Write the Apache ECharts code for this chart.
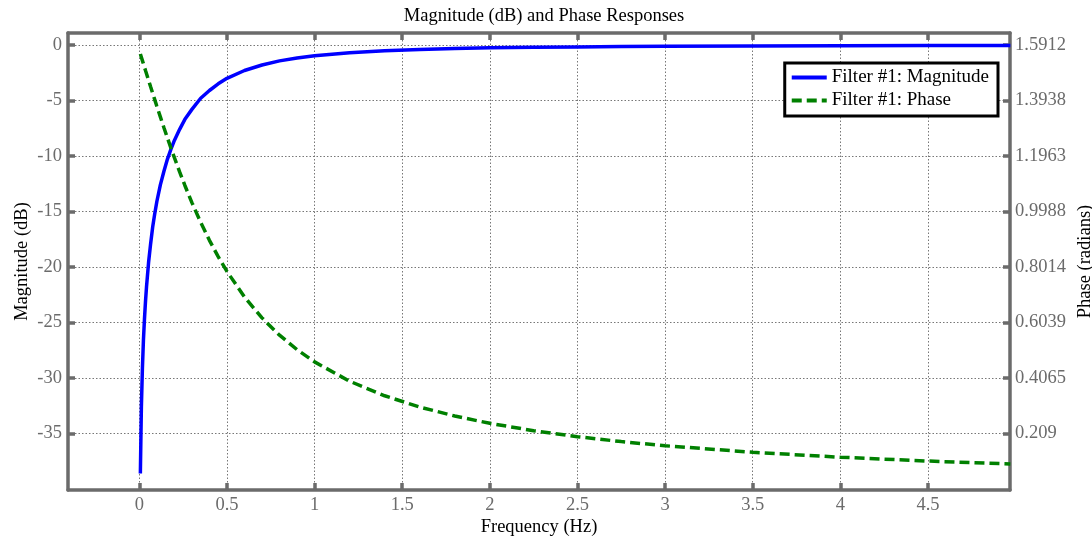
<!DOCTYPE html>
<html>
<head>
<meta charset="utf-8">
<script src="https://cdn.jsdelivr.net/npm/echarts@6/dist/echarts.min.js"></script>
<style>
  html, body { margin: 0; padding: 0; background: #fff; }
  #chart { width: 1092px; height: 538px; }
</style>
</head>
<body>
<div id="chart"></div>
<script>
  // frequencies (Hz)
  const freq = [0.0059, 0.0117, 0.0176, 0.0234, 0.0293, 0.0352, 0.041, 0.0527, 0.0645, 0.0762,
    0.0879, 0.1, 0.12, 0.14, 0.16, 0.18, 0.2, 0.23, 0.26, 0.3, 0.35, 0.4, 0.45, 0.5,
    0.6, 0.7, 0.8, 0.9, 1.0, 1.2, 1.4, 1.6, 1.8, 2.0, 2.25, 2.5, 2.75, 3.0, 3.5, 4.0, 4.5, 4.97]
  // Filter #1: Magnitude (dB)
  const magnitude = [-38.6, -32.6, -29.1, -26.6, -24.7, -23.1, -21.8, -19.6, -17.9, -16.4,
    -15.2, -14.1, -12.6, -11.4, -10.3, -9.4, -8.6, -7.6, -6.7, -5.8, -4.8, -4.1, -3.5, -3.0,
    -2.3, -1.8, -1.43, -1.17, -0.97, -0.7, -0.52, -0.4, -0.32, -0.26, -0.21, -0.17, -0.14, -0.12, -0.09, -0.07, -0.05, -0.04]
  // Filter #1: Phase (radians)
  const phase = [1.559, 1.5474, 1.5356, 1.524, 1.5123, 1.5005, 1.489, 1.4658, 1.4425, 1.4196,
    1.3968, 1.3734, 1.3353, 1.2978, 1.2611, 1.2252, 1.1903, 1.1397, 1.0913, 1.0304, 0.9601, 0.8961, 0.838, 0.7854,
    0.6947, 0.6202, 0.5586, 0.5071, 0.4636, 0.3948, 0.343, 0.3029, 0.2709, 0.245, 0.2187, 0.1974, 0.1799, 0.1651, 0.1419, 0.1244, 0.1107, 0.1003]

  const freqTicks = [0, 0.5, 1, 1.5, 2, 2.5, 3, 3.5, 4, 4.5]
  const magTicks = [-35, -30, -25, -20, -15, -10, -5, 0]
  const phaseTicks = [0.209, 0.4065, 0.6039, 0.8014, 0.9988, 1.1963, 1.3938, 1.5912]

  const boxColor = '#6b6b6b'
  const font = '"Liberation Serif", "Times New Roman", serif'

  const zip = (xs, ys) => xs.map((x, i) => [x, ys[i]])

  const frame = {
    axisLine: { show: true, onZero: false, lineStyle: { color: boxColor, width: 3.5 } },
    axisTick: { show: true, inside: true, length: 7, lineStyle: { color: boxColor, width: 3.5 } }
  }

  const chart = echarts.init(document.getElementById('chart'), null, { renderer: 'canvas' })
  const option = {
    animation: false,
    backgroundColor: '#fff',
    title: {
      text: 'Magnitude (dB) and Phase Responses',
      left: 539,
      textAlign: 'center',
      top: 2,
      textStyle: { fontFamily: font, fontWeight: 'normal', fontSize: 18.5, color: '#000' }
    },
    legend: {
      orient: 'vertical',
      right: 94,
      top: 63,
      backgroundColor: '#fff',
      borderColor: '#000',
      borderWidth: 3,
      padding: [5, 9, 6, 5],
      itemGap: 4,
      itemWidth: 35,
      itemHeight: 14,
      itemStyle: { opacity: 0 },
      lineStyle: { width: 4 },
      textStyle: { fontFamily: font, fontSize: 19, color: '#000' },
      data: ['Filter #1: Magnitude', 'Filter #1: Phase']
    },
    grid: { left: 68, right: 82, top: 33, bottom: 48, containLabel: false, outerBoundsMode: 'none' },
    xAxis: [{
      type: 'value',
      min: -0.407,
      max: 4.968,
      name: 'Frequency (Hz)',
      nameLocation: 'middle',
      nameGap: 28,
      nameMoveOverlap: false,
      nameTextStyle: { fontFamily: font, fontSize: 18.5, color: '#000' },
      axisLine: frame.axisLine,
      axisTick: Object.assign({ customValues: freqTicks }, frame.axisTick),
      axisLabel: {
        customValues: freqTicks,
        margin: 6,
        fontFamily: font, fontSize: 18.5, color: '#6b6b6b'
      },
      splitLine: { show: true, lineStyle: { color: '#777', width: 1, type: [1.5, 2] } }
    }, {
      type: 'value',
      position: 'top',
      min: -0.407,
      max: 4.968,
      axisLine: frame.axisLine,
      axisTick: Object.assign({ customValues: freqTicks }, frame.axisTick),
      axisLabel: { show: false },
      splitLine: { show: false }
    }],
    yAxis: [{
      type: 'value',
      position: 'left',
      min: -40.09,
      max: 1.08,
      name: 'Magnitude (dB)',
      nameLocation: 'middle',
      nameGap: 36,
      nameMoveOverlap: false,
      nameTextStyle: { fontFamily: font, fontSize: 18.5, color: '#000' },
      axisLine: frame.axisLine,
      axisTick: Object.assign({ customValues: magTicks }, frame.axisTick),
      axisLabel: {
        customValues: magTicks,
        margin: 6,
        fontFamily: font, fontSize: 18.5, color: '#6b6b6b'
      },
      splitLine: { show: true, lineStyle: { color: '#777', width: 1, type: [1.5, 2] } }
    }, {
      type: 'value',
      position: 'right',
      min: 0.0077,
      max: 1.6339,
      name: 'Phase (radians)',
      nameLocation: 'middle',
      nameGap: 66,
      nameRotate: 90,
      nameMoveOverlap: false,
      nameTextStyle: { fontFamily: font, fontSize: 18.5, color: '#000' },
      axisLine: frame.axisLine,
      axisTick: Object.assign({ customValues: phaseTicks }, frame.axisTick),
      axisLabel: {
        customValues: phaseTicks,
        margin: 5,
        fontFamily: font, fontSize: 18.5, color: '#6b6b6b',
        formatter: v => String(v)
      },
      splitLine: { show: false }
    }],
    series: [{
      name: 'Filter #1: Magnitude',
      type: 'line',
      xAxisIndex: 0,
      yAxisIndex: 0,
      showSymbol: false,
      symbol: 'none',
      data: zip(freq, magnitude),
      color: '#0000ff',
      lineStyle: { color: '#0000ff', width: 3.5 }
    }, {
      name: 'Filter #1: Phase',
      type: 'line',
      xAxisIndex: 0,
      yAxisIndex: 1,
      showSymbol: false,
      symbol: 'none',
      data: zip(freq, phase),
      color: '#008000',
      lineStyle: { color: '#008000', width: 3.5, type: [10, 5] }
    }]
  }
  chart.setOption(option)
</script>
</body>
</html>
